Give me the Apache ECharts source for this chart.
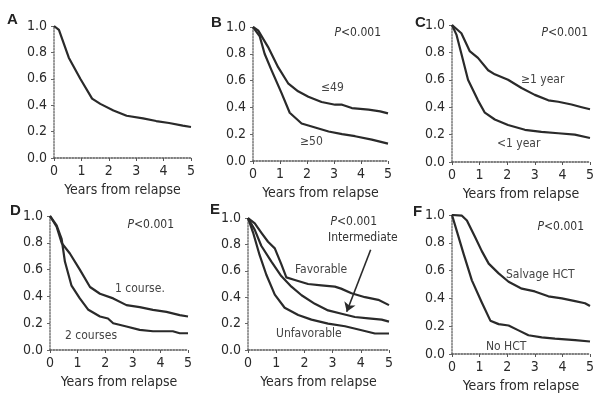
<!DOCTYPE html>
<html><head><meta charset="utf-8">
<script src="https://cdn.jsdelivr.net/npm/echarts@6/dist/echarts.min.js"></script>
<style>html,body{margin:0;padding:0;background:#fff}#c{width:598px;height:394px}</style>
</head><body><div id="c"></div>
<script>
const xTicks = [0,1,2,3,4,5];
const yTicks = [0,0.2,0.4,0.6,0.8,1.0];
const xTitle = 'Years from relapse';
const pText = 'P<0.001';

const A_all = [[0,1],[0.18,0.97],[0.54,0.76],[0.96,0.60],[1.39,0.45],[1.69,0.41],[2.17,0.36],[2.65,0.32],[3.25,0.30],[3.73,0.28],[4.2,0.265],[4.7,0.245],[5,0.235]];
const B_le49 = [[0,1],[0.19,0.975],[0.56,0.85],[0.93,0.70],[1.3,0.58],[1.67,0.52],[2.05,0.48],[2.54,0.44],[3.04,0.42],[3.3,0.42],[3.66,0.395],[4.28,0.383],[4.71,0.37],[5,0.355]];
const B_ge50 = [[0,1],[0.25,0.93],[0.43,0.80],[0.68,0.68],[1.05,0.51],[1.36,0.36],[1.8,0.28],[2.3,0.25],[2.8,0.22],[3.3,0.20],[3.78,0.185],[4.4,0.16],[5,0.13]];
const C_ge1y = [[0,1],[0.34,0.94],[0.64,0.81],[0.94,0.76],[1.31,0.67],[1.55,0.64],[2.03,0.60],[2.52,0.54],[3.0,0.49],[3.49,0.45],[3.85,0.44],[4.33,0.42],[4.7,0.40],[5,0.385]];
const C_lt1y = [[0,1],[0.16,0.93],[0.34,0.79],[0.58,0.60],[0.94,0.45],[1.19,0.36],[1.55,0.31],[2.03,0.27],[2.64,0.235],[3.24,0.22],[3.85,0.21],[4.45,0.20],[5,0.175]];
const D_1c = [[0,1],[0.24,0.92],[0.42,0.80],[0.72,0.72],[1.08,0.60],[1.45,0.47],[1.81,0.42],[2.29,0.385],[2.77,0.335],[3.25,0.32],[3.73,0.30],[4.22,0.285],[4.7,0.26],[5,0.25]];
const D_2c = [[0,1],[0.24,0.93],[0.42,0.83],[0.54,0.66],[0.78,0.48],[1.08,0.385],[1.39,0.30],[1.81,0.25],[2.1,0.235],[2.29,0.20],[2.77,0.175],[3.25,0.15],[3.73,0.14],[4.45,0.14],[4.7,0.125],[5,0.125]];
const E_fav = [[0,1],[0.24,0.96],[0.47,0.89],[0.71,0.82],[0.95,0.77],[1.18,0.65],[1.36,0.55],[1.66,0.53],[2.13,0.50],[2.6,0.49],[3.08,0.48],[3.3,0.465],[3.67,0.43],[4.15,0.40],[4.62,0.38],[5,0.34]];
const E_int = [[0,1],[0.24,0.91],[0.47,0.79],[0.83,0.67],[1.18,0.56],[1.54,0.48],[1.9,0.415],[2.37,0.35],[2.84,0.30],[3.32,0.275],[3.79,0.25],[4.27,0.24],[4.74,0.23],[5,0.215]];
const E_unf = [[0,1],[0.18,0.89],[0.41,0.72],[0.65,0.57],[0.95,0.42],[1.3,0.32],[1.78,0.265],[2.25,0.23],[2.84,0.20],[3.44,0.18],[4.03,0.15],[4.5,0.125],[5,0.125]];
const F_hct = [[0,1],[0.36,0.995],[0.54,0.96],[0.84,0.84],[1.08,0.74],[1.33,0.65],[1.69,0.58],[2.05,0.52],[2.53,0.47],[3.0,0.45],[3.49,0.415],[3.98,0.40],[4.46,0.38],[4.82,0.365],[5,0.345]];
const F_no = [[0,1],[0.18,0.88],[0.42,0.72],[0.72,0.53],[1.08,0.37],[1.39,0.24],[1.69,0.215],[2.05,0.205],[2.41,0.17],[2.77,0.135],[3.25,0.12],[3.73,0.11],[4.46,0.10],[5,0.09]];

const FONT = '"Liberation Sans Narrow","DejaVu Sans Condensed","Arial Narrow",sans-serif';
const INK = '#2a2a2a';

const grids = [
  {left:54, top:26, width:137, height:132},
  {left:253, top:27, width:135, height:134},
  {left:452, top:25, width:138, height:137},
  {left:50, top:216, width:138, height:134},
  {left:248, top:218, width:141, height:132},
  {left:452, top:215, width:138, height:142}
];
const panelSeries = [
  [A_all],
  [B_le49, B_ge50],
  [C_ge1y, C_lt1y],
  [D_1c, D_2c],
  [E_fav, E_int, E_unf],
  [F_hct, F_no]
];

const xAxes = grids.map((g,i)=>({
  type:'value', gridIndex:i, min:xTicks[0], max:xTicks[xTicks.length-1], interval:1,
  name:xTitle, nameLocation:'middle', nameGap:25,
  nameTextStyle:{fontFamily:FONT, fontSize:14, color:INK},
  axisLine:{lineStyle:{color:'#555', type:'dotted', width:1.5}},
  axisTick:{show:true, length:3, lineStyle:{color:'#555'}},
  axisLabel:{fontFamily:FONT, fontSize:14, color:INK, margin:6},
  splitLine:{show:false}
}));
const yAxes = grids.map((g,i)=>({
  type:'value', gridIndex:i, min:yTicks[0], max:yTicks[yTicks.length-1], interval:0.2,
  axisLine:{show:true, lineStyle:{color:'#777', type:'dotted', width:1.5}},
  axisTick:{show:true, length:3, lineStyle:{color:'#666'}},
  axisLabel:{fontFamily:FONT, fontSize:14, color:INK, margin:7, formatter:v=>v.toFixed(1)},
  splitLine:{show:false}
}));

const series = [];
panelSeries.forEach((list,i)=>{
  list.forEach(d=>{
    series.push({type:'line', xAxisIndex:i, yAxisIndex:i, data:d, showSymbol:false,
      smooth:false, lineStyle:{color:INK, width:2.2, join:'round'}, animation:false, z:3});
  });
});
// arrow in panel E
series.push({type:'line', xAxisIndex:4, yAxisIndex:4, data:[], animation:false,
  markLine:{silent:true, symbol:['none','arrow'], symbolSize:9, label:{show:false},
    lineStyle:{color:INK, width:1.6, type:'solid'},
    data:[[{coord:[4.35,0.76]},{coord:[3.5,0.29]}]]}});

function txt(x,y,t,opt){
  return {type:'text', left:x, top:y, style:Object.assign({text:t, fontFamily:FONT, fontSize:12, fill:'#444'}, opt||{})};
}
function ptxt(r,y){
  return {type:'text', right:r, top:y, style:{text:'{i|P}<0.001', fontFamily:FONT, fontSize:12, fill:'#333',
    rich:{i:{fontStyle:'italic', fontFamily:FONT, fontSize:12, fill:'#333'}}}};
}
const letter = {fontFamily:'"Liberation Sans",Arial,sans-serif', fontSize:15, fontWeight:'bold', fill:'#222'};
const graphic = [
  txt(7,12,'A',letter), txt(211,15,'B',letter), txt(415,15,'C',letter),
  txt(10,203,'D',letter), txt(210,202,'E',letter), txt(413,204,'F',letter),
  ptxt(598-381,27), ptxt(598-588,27), ptxt(598-174,219), ptxt(598-377,216), ptxt(598-584,221),
  txt(321,82,'≤49'), txt(300,136,'≥50'),
  txt(521,74,'≥1 year'), txt(497,138,'<1 year'),
  txt(115,283,'1 course.'), txt(65,330,'2 courses'),
  txt(328,232,'Intermediate',{fill:'#333'}), txt(295,264,'Favorable'), txt(276,328,'Unfavorable'),
  txt(506,269,'Salvage HCT'), txt(486,341,'No HCT')
];

const chart = echarts.init(document.getElementById('c'), null, {renderer:'canvas'});
chart.setOption({
  backgroundColor:'#fff', animation:false,
  grid: grids.map(g=>Object.assign({containLabel:false}, g)),
  xAxis:xAxes, yAxis:yAxes, series, graphic
});
</script></body></html>
